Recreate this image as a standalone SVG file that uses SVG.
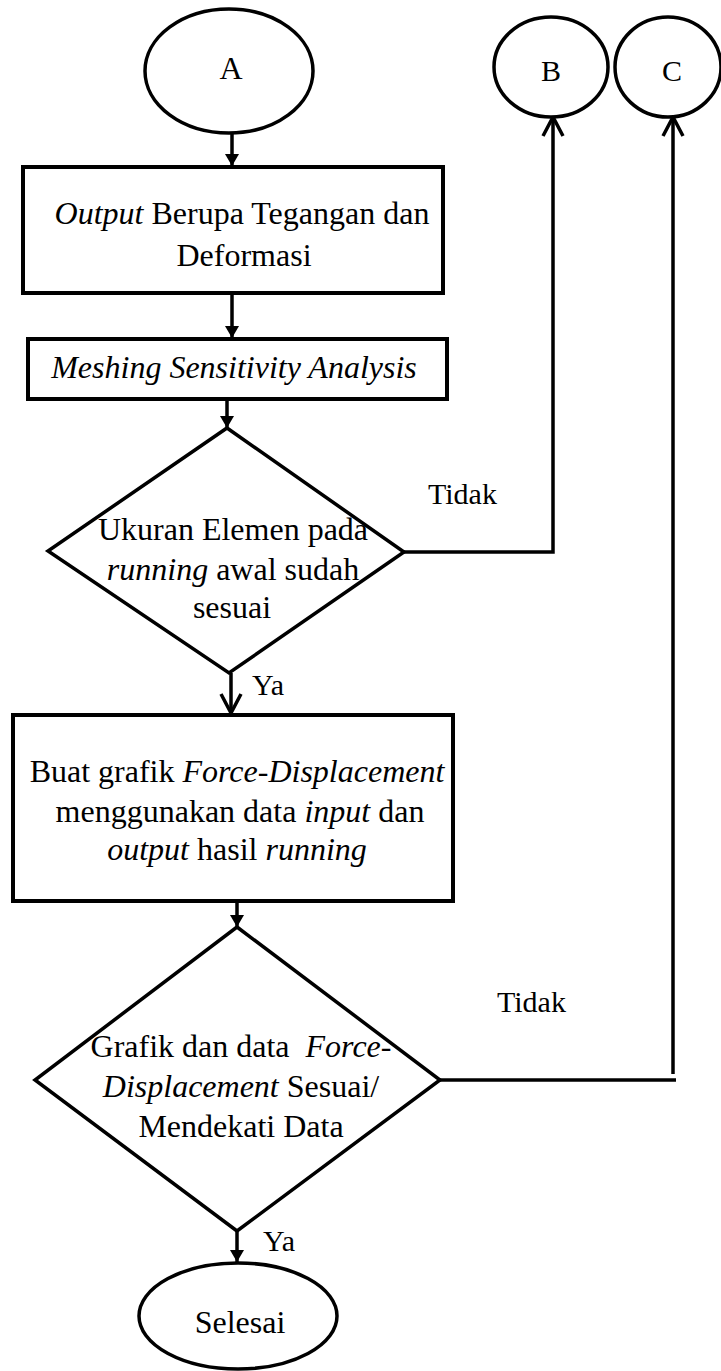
<svg xmlns="http://www.w3.org/2000/svg" width="721" height="1371" viewBox="0 0 721 1371">
  <style>
    .shape { fill: #ffffff; stroke: #000000; stroke-width: 3.5; }
    .box { fill: #ffffff; stroke: #000000; stroke-width: 4; }
    .edge { fill: none; stroke: #000000; stroke-width: 3.5; }
    text { font-family: "Liberation Serif", "Times New Roman", serif; font-size: 32px; fill: #000000; }
    .c { text-anchor: middle; }
    .lbl { font-size: 30px; }
    .i { font-style: italic; }
  </style>
  <defs>
    <marker id="arrowFill" viewBox="0 0 12 14" refX="12" refY="7" markerWidth="12" markerHeight="14" markerUnits="userSpaceOnUse" orient="auto">
      <path d="M0,0 L12,7 L0,14 Z" fill="#000000"/>
    </marker>
    <marker id="arrowOpen" viewBox="-3 -13 24 26" refX="19" refY="0" markerWidth="24" markerHeight="26" markerUnits="userSpaceOnUse" orient="auto">
      <path d="M0,-10 L19,0 L0,10" fill="none" stroke="#000000" stroke-width="3.5" stroke-linejoin="miter"/>
    </marker>
  </defs>

  <!-- connectors -->
  <g id="connectors">
    <line class="edge" x1="232" y1="134" x2="232" y2="166" marker-end="url(#arrowFill)"/>
    <line class="edge" x1="232" y1="293" x2="232" y2="338" marker-end="url(#arrowFill)"/>
    <line class="edge" x1="227" y1="399" x2="227" y2="428" marker-end="url(#arrowFill)"/>
    <line class="edge" x1="231" y1="673" x2="231" y2="713" marker-end="url(#arrowOpen)"/>
    <polyline class="edge" points="404,552 553,552 553,117" marker-end="url(#arrowOpen)"/>
    <line class="edge" x1="237" y1="901" x2="237" y2="927" marker-end="url(#arrowFill)"/>
    <line class="edge" x1="440" y1="1080" x2="676" y2="1080"/>
    <line class="edge" x1="673" y1="1074" x2="673" y2="117" marker-end="url(#arrowOpen)"/>
    <line class="edge" x1="237" y1="1231" x2="237" y2="1262" marker-end="url(#arrowFill)"/>
  </g>

  <!-- connector labels -->
  <g id="labels">
    <text class="lbl" x="428" y="504">Tidak</text>
    <text class="lbl" x="252" y="695">Ya</text>
    <text class="lbl" x="497" y="1012">Tidak</text>
    <text class="lbl" x="263" y="1251">Ya</text>
  </g>

  <!-- connector A -->
  <g id="nodeA">
    <ellipse class="shape" cx="229" cy="71" rx="84" ry="62"/>
    <text class="c" x="231" y="79">A</text>
  </g>

  <!-- connector B -->
  <g id="nodeB">
    <ellipse class="shape" cx="551" cy="67" rx="57" ry="50"/>
    <text class="c lbl" x="551" y="81">B</text>
  </g>

  <!-- connector C -->
  <g id="nodeC">
    <ellipse class="shape" cx="668" cy="67" rx="53" ry="50"/>
    <text class="c lbl" x="672" y="81">C</text>
  </g>

  <!-- output step -->
  <g id="output">
    <rect class="box" x="23" y="167" width="420" height="126"/>
    <text class="c" x="242" y="224"><tspan class="i">Output</tspan> Berupa Tegangan dan</text>
    <text class="c" x="244" y="266">Deformasi</text>
  </g>

  <!-- mesh sensitivity step -->
  <g id="meshing">
    <rect class="box" x="28" y="339" width="419" height="60"/>
    <text class="c i" x="234" y="378">Meshing Sensitivity Analysis</text>
  </g>

  <!-- element size decision -->
  <g id="decision1">
    <polygon class="shape" points="227,428 404,552 229,673 48,551"/>
    <text class="c" x="233" y="540">Ukuran Elemen pada</text>
    <text class="c" x="233" y="580"><tspan class="i">running</tspan> awal sudah</text>
    <text class="c" x="232" y="618">sesuai</text>
  </g>

  <!-- force-displacement chart step -->
  <g id="grafik">
    <rect class="box" x="13" y="715" width="440" height="186"/>
    <text class="c" x="237" y="782">Buat grafik <tspan class="i">Force-Displacement</tspan></text>
    <text class="c" x="240" y="822">menggunakan data <tspan class="i">input</tspan> dan</text>
    <text class="c" x="237" y="860"><tspan class="i">output</tspan> hasil <tspan class="i">running</tspan></text>
  </g>

  <!-- chart agreement decision -->
  <g id="decision2">
    <polygon class="shape" points="237,927 440,1080 237,1231 35,1080"/>
    <text class="c" x="241" y="1057" xml:space="preserve">Grafik dan data  <tspan class="i">Force-</tspan></text>
    <text class="c" x="241" y="1097"><tspan class="i">Displacement</tspan> Sesuai/</text>
    <text class="c" x="241" y="1137">Mendekati Data</text>
  </g>

  <!-- end -->
  <g id="selesai">
    <ellipse class="shape" cx="238" cy="1316" rx="99" ry="53"/>
    <text class="c" x="240" y="1333">Selesai</text>
  </g>
</svg>
